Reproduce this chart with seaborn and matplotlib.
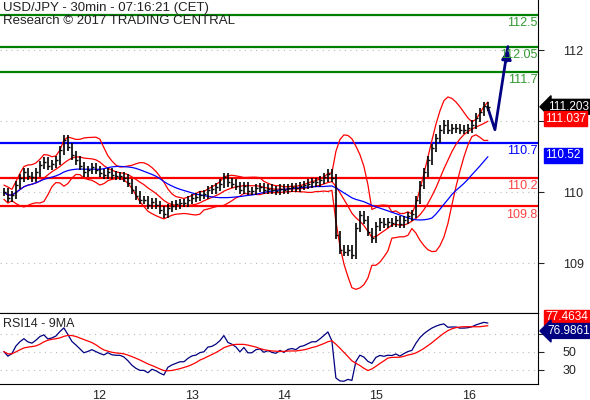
import numpy as np
import pandas as pd
import matplotlib
matplotlib.use("Agg")
import matplotlib.pyplot as plt
import seaborn as sns

sns.set_style("white")
plt.rcParams['font.family'] = ['Liberation Sans', 'DejaVu Sans']

closes = [110.0, 109.92, 109.96, 110.10, 110.2, 110.28, 110.23, 110.21, 110.28, 110.38,
          110.43, 110.37, 110.40, 110.45, 110.59, 110.74, 110.64, 110.52, 110.45, 110.37,
          110.28, 110.31, 110.35, 110.31, 110.27, 110.24, 110.28, 110.24, 110.23, 110.23,
          110.2, 110.13, 110.03, 109.95, 109.89, 109.89, 109.82, 109.86, 109.82, 109.75,
          109.69, 109.78, 109.81, 109.83, 109.85, 109.85, 109.89, 109.92, 109.93, 109.96,
          109.97, 110.03, 110.04, 110.07, 110.12, 110.21, 110.14, 110.12, 110.09, 110.03,
          110.09, 110.02, 110.02, 110.06, 110.07, 110.03, 110.05, 110.03, 110.02, 110.05,
          110.03, 110.06, 110.07, 110.06, 110.09, 110.10, 110.12, 110.14, 110.14, 110.17,
          110.21, 110.26, 110.2, 109.40, 109.19, 109.16, 109.19, 109.12, 109.5, 109.68,
          109.61, 109.44, 109.35, 109.52, 109.58, 109.55, 109.58, 109.57, 109.61, 109.55,
          109.61, 109.66, 109.69, 109.89, 110.10, 110.28, 110.45, 110.62, 110.76, 110.88,
          110.95, 110.88, 110.9, 110.9, 110.88, 110.88, 110.9, 110.95, 111.05, 111.13,
          111.21, 111.20]
start_day = 11.04
bar_step = 4 / 92.3
levels_green = [112.5, 112.05, 111.7]
level_blue = [110.7]
levels_red = [110.2, 109.8]
forecast_t = [16.28, 16.36, 16.50]
forecast_p = [111.20, 110.88, 112.05]
price_ticks = [109, 110, 111, 112]
rsi_ticks = [30, 50, 70]
day_ticks = [12, 13, 14, 15, 16]

c = pd.Series(closes)
t = start_day + bar_step * np.arange(len(c))
o = c.shift(1).fillna(c.iloc[0])
hi = np.maximum(o, c) + 0.06
lo = np.minimum(o, c) - 0.06
mid = c.rolling(10, min_periods=1).mean()
sd = c.rolling(10, min_periods=2).std().fillna(0.05)
up = mid + 2 * sd
dn = mid - 2 * sd
ma = c.rolling(25, min_periods=1).mean()
d = c.diff().fillna(0)
seed = 0.03
g = pd.concat([pd.Series([seed]), d.clip(lower=0)], ignore_index=True).ewm(alpha=1/14, adjust=False).mean().iloc[1:].values
l = pd.concat([pd.Series([seed]), (-d.clip(upper=0))], ignore_index=True).ewm(alpha=1/14, adjust=False).mean().iloc[1:].values
rsi = pd.Series(100 * g / (g + l))
rsi_ma = rsi.rolling(9, min_periods=1).mean()

fig = plt.figure(figsize=(5.9, 4), dpi=100)
ax = fig.add_axes([0, 87/400, 538/590, 313/400])
ax2 = fig.add_axes([0, 16/400, 538/590, 71/400])

for y in price_ticks:
    ax.axhline(y, color='#bbbbbb', lw=0.8, ls=(0, (1, 4)), zorder=0)
for y in levels_green:
    ax.axhline(y, color='#008000', lw=1.6, zorder=1)
for y in level_blue:
    ax.axhline(y, color='#0000ff', lw=1.6, zorder=1)
for y in levels_red:
    ax.axhline(y, color='#ff0000', lw=1.6, zorder=1)

sns.lineplot(x=t, y=up.values, ax=ax, color='red', lw=0.9)
sns.lineplot(x=t, y=dn.values, ax=ax, color='red', lw=0.9)
sns.lineplot(x=t, y=mid.values, ax=ax, color='red', lw=0.9)
sns.lineplot(x=t, y=ma.values, ax=ax, color='blue', lw=0.9)
ax.vlines(t, lo, hi, color='black', lw=1.2, zorder=3)
ax.hlines(c, t, t + bar_step * 0.45, color='black', lw=1.0, zorder=3)
sns.lineplot(x=forecast_t, y=forecast_p, ax=ax, color='#000080', lw=2)
ax.annotate('', xy=(forecast_t[-1], forecast_p[-1]), xytext=(forecast_t[-1] - 0.02, forecast_p[-1] - 0.25),
            arrowprops=dict(arrowstyle='-|>', color='#000080', lw=2, mutation_scale=14))

xlim = (12 - 92.5/92.3, 12 + (538 - 92.5)/92.3)
ax.set_xlim(*xlim)
ax.set_ylim(110.2 - 135/71, 110.2 + 178/71)
ax.yaxis.tick_right()
ax.set_yticks(price_ticks)
ax.set_yticklabels([str(v) for v in price_ticks], fontsize=9)
ax.set_xticks([])
ax.tick_params(axis='y', length=4, direction='out', pad=14)
for s in ['left', 'top']:
    ax.spines[s].set_visible(False)
ax.spines['right'].set_color('black')
ax.spines['bottom'].set_color('black')

lab_x = xlim[1] - 0.005
for y, col in [(112.5, '#339933'), (112.05, '#339933'), (111.7, '#339933'),
               (110.7, '#0000ff'), (110.2, '#ff4444'), (109.8, '#ff4444')]:
    ax.text(lab_x, y - 0.03, f'{y:g}', color=col, fontsize=9, ha='right', va='top')

ax.text(0.005, 0.995, 'USD/JPY - 30min - 07:16:21 (CET)\nResearch © 2017 TRADING CENTRAL',
        transform=ax.transAxes, fontsize=9.5, va='top', ha='left', color='#222222', linespacing=1.2)

def tag(axis, y, txt, fc, pointer=False):
    axis.annotate(txt, xy=(1.0, y), xycoords=('axes fraction', 'data'),
                  xytext=(7 if pointer else 5, 0), textcoords='offset points',
                  fontsize=8.5, color='white', va='center', ha='left',
                  bbox=dict(boxstyle='larrow,pad=0.12' if pointer else 'square,pad=0.12', fc=fc, ec=fc),
                  annotation_clip=False)

tag(ax, 111.203, '111.203', 'black', True)
tag(ax, 111.037, '111.037', '#ff0000')
tag(ax, 110.52, '110.52', '#0000ff')

for y in rsi_ticks:
    ax2.axhline(y, color='#bbbbbb', lw=0.8, ls=(0, (1, 4)), zorder=0)
sns.lineplot(x=t, y=rsi.values, ax=ax2, color='#000080', lw=0.9)
sns.lineplot(x=t, y=rsi_ma.values, ax=ax2, color='red', lw=0.9)
ax2.set_xlim(*xlim)
ax2.set_ylim(14, 93)
ax2.yaxis.tick_right()
ax2.set_yticks(rsi_ticks)
ax2.set_yticklabels([str(v) for v in rsi_ticks], fontsize=9)
ax2.tick_params(axis='y', length=4, pad=14)
ax2.set_xticks(day_ticks)
ax2.set_xticklabels([str(v) for v in day_ticks], fontsize=9, ha='left')
ax2.tick_params(axis='x', length=4, pad=0)
for s in ax2.spines.values():
    s.set_color('black')
ax2.spines['left'].set_visible(False)
ax2.text(0.005, 0.93, 'RSI14 - 9MA', transform=ax2.transAxes, fontsize=9, va='top', color='#222222')
tag(ax2, 88, '77.4634', '#ff0000')
tag(ax2, 73, '76.9861', '#000080', True)

fig.savefig('out.png', dpi=100)
